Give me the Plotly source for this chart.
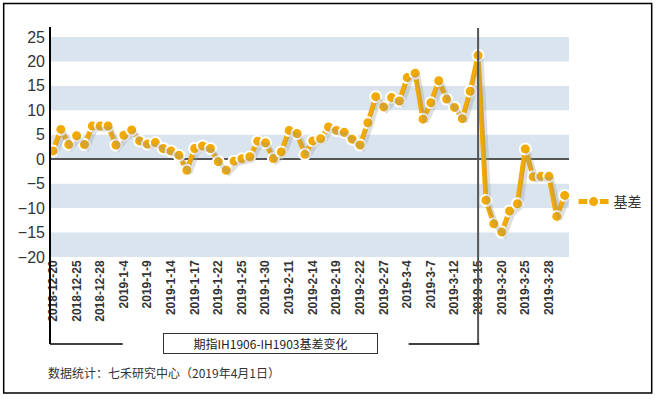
import plotly.graph_objects as go

dates = [
    "2018-12-20", "2018-12-21", "2018-12-24", "2018-12-25", "2018-12-26", "2018-12-27", "2018-12-28",
    "2019-1-2", "2019-1-3", "2019-1-4", "2019-1-7", "2019-1-8", "2019-1-9", "2019-1-10", "2019-1-11",
    "2019-1-14", "2019-1-15", "2019-1-16", "2019-1-17", "2019-1-18", "2019-1-21", "2019-1-22",
    "2019-1-23", "2019-1-24", "2019-1-25", "2019-1-28", "2019-1-29", "2019-1-30", "2019-1-31",
    "2019-2-1", "2019-2-11", "2019-2-12", "2019-2-13", "2019-2-14", "2019-2-15", "2019-2-18",
    "2019-2-19", "2019-2-20", "2019-2-21", "2019-2-22", "2019-2-25", "2019-2-26", "2019-2-27",
    "2019-2-28", "2019-3-1", "2019-3-4", "2019-3-5", "2019-3-6", "2019-3-7", "2019-3-8",
    "2019-3-11", "2019-3-12", "2019-3-13", "2019-3-14", "2019-3-15", "2019-3-18", "2019-3-19",
    "2019-3-20", "2019-3-21", "2019-3-22", "2019-3-25", "2019-3-26", "2019-3-27", "2019-3-28",
    "2019-3-29", "2019-4-1",
]

basis = [
    1.7, 6.1, 3.0, 4.8, 3.0, 6.8, 6.8, 6.8, 2.9, 4.9,
    6.0, 3.75, 3.1, 3.4, 2.2, 1.7, 0.8, -2.25, 2.2, 2.7,
    2.2, -0.5, -2.25, -0.4, 0.1, 0.5, 3.7, 3.35, 0.15, 1.5,
    5.9, 5.25, 1.0, 3.75, 4.2, 6.6, 5.9, 5.5, 4.1, 2.9,
    7.45, 12.8, 10.7, 12.6, 11.9, 16.7, 17.6, 8.2, 11.55, 16.05,
    12.3, 10.6, 8.3, 13.9, 21.25, -8.4, -13.2, -14.9, -10.6, -9.1,
    2.1, -3.6, -3.5, -3.5, -11.7, -7.4,
]

tick_labels = dates[::3]
y_ticks = [-20, -15, -10, -5, 0, 5, 10, 15, 20, 25]
bands = [(-20, -15), (-10, -5), (0, 5), (10, 15), (20, 25)]
series_name = "基差"
title_text = "期指IH1906-IH1903基差变化"
source_text = "数据统计：七禾研究中心（2019年4月1日）"
split_date = "2019-3-15"

ORANGE = "#F2A900"
W, H = 659, 399
L, T = 50, 37
PW, PH = 524, 223      # total plotting area incl. shadow offset
DX, DY = 3, 3          # shadow offset in px

fig = go.Figure()

# shadow
fig.add_trace(go.Scatter(
    x=dates, y=basis, mode="lines", xaxis="x2", yaxis="y2",
    line=dict(color="rgba(150,150,150,0.3)", width=5),
    showlegend=False, hoverinfo="skip",
))

fig.add_trace(go.Scatter(
    x=dates, y=basis, mode="lines+markers", name=series_name,
    line=dict(color=ORANGE, width=5),
    marker=dict(color=ORANGE, size=11, line=dict(color="white", width=2)),
))

xr = [-0.38, len(dates) - 1 + 0.55]
yr = [-20, 25]

fig.update_layout(
    width=W, height=H,
    margin=dict(l=L, r=W - L - PW, t=T, b=H - T - PH, pad=0),
    paper_bgcolor="white", plot_bgcolor="rgba(0,0,0,0)",
    font=dict(family="Arial", color="#333"),
    xaxis=dict(
        type="category", categoryorder="array", categoryarray=dates,
        domain=[0, (PW - DX) / PW], range=xr,
        tickmode="array", tickvals=tick_labels, ticktext=tick_labels,
        tickangle=-90, showgrid=False, zeroline=False, showline=False,
        ticks="", tickfont=dict(size=12, color="#333", family="Arial", weight="bold"),
    ),
    yaxis=dict(
        domain=[DY / PH, 1], range=yr, tickvals=y_ticks,
        showgrid=False, zeroline=True, zerolinecolor="#555", zerolinewidth=1.5,
        showline=False, ticks="", ticklabelstandoff=4,
        tickfont=dict(size=16, color="#333", family="Arial"),
    ),
    xaxis2=dict(
        type="category", categoryorder="array", categoryarray=dates,
        domain=[DX / PW, 1], range=xr, visible=False, anchor="y2",
    ),
    yaxis2=dict(
        domain=[0, (PH - DY) / PH], range=yr, visible=False, anchor="x2",
    ),
    showlegend=True,
    legend=dict(
        x=1.003, y=0.26, xanchor="left", yanchor="middle",
        font=dict(size=14, color="#333", family="Noto Sans CJK SC"),
        bgcolor="rgba(0,0,0,0)",
    ),
)

shapes = []
for lo, hi in bands:
    shapes.append(dict(type="rect", xref="x domain", yref="y", x0=0, x1=1, y0=lo, y1=hi,
                       fillcolor="#D9E4EF", line=dict(width=0), layer="below"))

def py(px):  # page pixel y -> paper y
    return (T + PH - px) / PH

def pxx(px):  # page pixel x -> paper x
    return (px - L) / PW

# left axis bracket
shapes.append(dict(type="line", xref="paper", yref="paper", x0=0, x1=0, y0=py(27), y1=py(344),
                   line=dict(color="black", width=2)))
shapes.append(dict(type="line", xref="paper", yref="paper", x0=0, x1=pxx(123), y0=py(344), y1=py(344),
                   line=dict(color="black", width=1.5)))
# split line at 2019-3-15
shapes.append(dict(type="line", xref="x", yref="paper", x0=split_date, x1=split_date, y0=py(28), y1=py(344),
                   line=dict(color="#555", width=2)))
shapes.append(dict(type="line", xref="paper", yref="paper", x0=pxx(410), x1=pxx(481), y0=py(344), y1=py(344),
                   line=dict(color="black", width=1.5)))
# outer border
shapes.append(dict(type="rect", xref="paper", yref="paper", x0=pxx(3.5), x1=pxx(654), y0=py(393), y1=py(3.5),
                   line=dict(color="black", width=1.5), fillcolor="rgba(0,0,0,0)"))

fig.update_layout(shapes=shapes)

fig.add_annotation(
    text=title_text, xref="paper", yref="paper", x=pxx(271), y=py(343),
    xanchor="center", yanchor="middle", showarrow=False,
    font=dict(size=12, color="#222", family="Noto Sans CJK SC"),
    bordercolor="#333", borderwidth=1, borderpad=2, width=209, height=15,
)
fig.add_annotation(
    text=source_text, xref="paper", yref="paper", x=pxx(46), y=py(372),
    xanchor="left", yanchor="middle", showarrow=False,
    font=dict(size=12, color="#333", family="Noto Sans CJK SC"),
)

fig.write_html("out.html", config={"displayModeBar": False},
               post_script="document.body.style.margin='0';document.body.style.padding='0';")
